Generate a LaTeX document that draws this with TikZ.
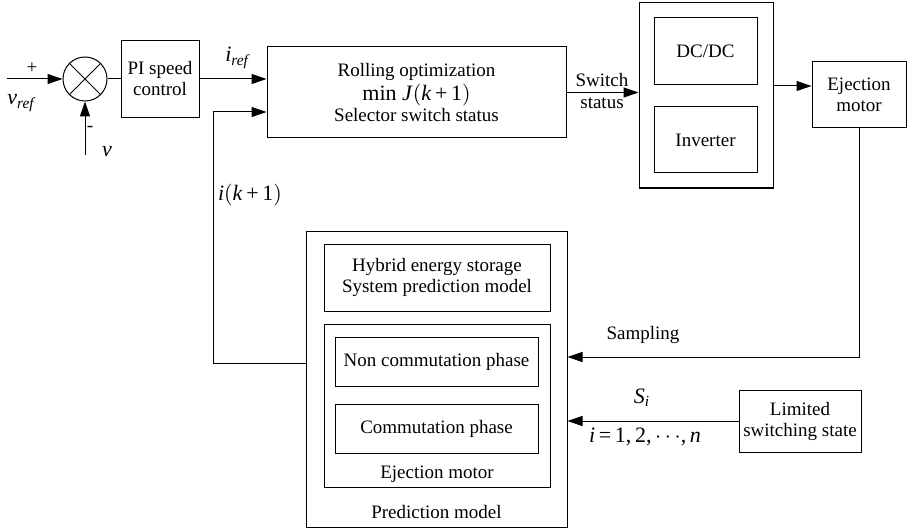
\documentclass[tikz,border=0pt]{standalone}
\usepackage{fontspec}
\setmainfont{Liberation Serif}
\usepackage{tikz}
\usetikzlibrary{arrows.meta, positioning, calc}
\newcommand{\vi}[1]{\textit{#1}}

\begin{document}
\begin{tikzpicture}[
  x=0.5pt, y=-0.5pt,
  font=\fontsize{9.5}{10.5}\selectfont,
  line width=0.5pt,
  box/.style={rectangle, draw, align=center, inner sep=1pt},
  arrow/.style={-{Triangle[length=7.5pt, width=5pt]}},
  lbl/.style={inner sep=1pt},
]
\useasboundingbox (0,0) rectangle (908,529);

% forward path
\node[circle, draw, minimum size=22pt, inner sep=0pt] (sum) at (85,79) {};
\draw (sum.north east) -- (sum.south west) (sum.north west) -- (sum.south east);
\node[box, minimum width=39pt, minimum height=38.5pt] (PI) at (160,79) {PI speed\\control};
\node[box, minimum width=149.5pt, minimum height=45.5pt] (roll) at (416.5,92.5)
  {Rolling optimization\\[0pt] {\fontsize{11}{12}\selectfont min \vi{J}$\bigl($\vi{k}\,+\,1$\bigr)$}\\[0pt] Selector switch status};

% converter
\node[box, minimum width=67pt, minimum height=92.5pt] (power) at (706,95.5) {};
\node[box, minimum width=51.5pt, minimum height=33.5pt] (dcdc) at (705.5,51.5) {DC/DC};
\node[box, minimum width=51.5pt, minimum height=33pt] (inv) at (705.5,140) {Inverter};
\node[box, minimum width=47pt, minimum height=33pt] (ejm) at (859,95) {Ejection\\motor};

% prediction model
\node[box, minimum width=130.5pt, minimum height=148pt] (pred) at (436.5,379) {};
\node[box, minimum width=113pt, minimum height=33.5pt] (hyb) at (437,277.5)
  {Hybrid energy storage\\System prediction model};
\node[box, minimum width=113pt, minimum height=81.5pt] (emot) at (437,405.5) {};
\node[box, minimum width=101.5pt, minimum height=24.5pt] (noncom) at (436.5,361.5) {Non commutation phase};
\node[box, minimum width=101.5pt, minimum height=24.5pt] (com) at (436.5,428.5) {Commutation phase};
\node[lbl, above=1pt of emot.south] {Ejection motor};
\node[lbl, above=3pt of pred.south] {Prediction model};
\node[box, minimum width=61pt, minimum height=31pt] (lim) at (800,421) {Limited\\switching state};

% inputs
\coordinate (vin) at (7,79);
\coordinate (vfb) at (85,155);
\coordinate (fb) at (213,363);
\draw[arrow] (vin) -- (sum.west);
\draw[arrow] (vfb) -- (sum.south);
\draw (sum.east) -- (PI.east -| PI.west);
\draw[arrow] (PI.east) -- (PI.east -| roll.west);
\draw[arrow] (pred.west |- fb) -- (fb) |- ([yshift=-9.75pt]roll.west);
\draw[arrow] (roll.east) -- (roll.east -| power.west);
\draw[arrow] ([yshift=4.75pt]power.east) -- ([yshift=4.75pt]power.east -| ejm.west);
\draw[arrow] (ejm.south) |- ([yshift=11pt]pred.east);
\draw[arrow] (lim.west) -- (lim.west -| pred.east);

% labels
\node[lbl] at (32,68) {+};
\node[lbl, font=\fontsize{11}{12}\selectfont] at (22,103) {\vi{v}\textsubscript{\vi{ref}}};
\node[lbl] at (90,129) {-};
\node[lbl, font=\fontsize{11}{12}\selectfont] at (107,152) {\vi{v}};
\node[lbl, font=\fontsize{11}{12}\selectfont] at (238,58) {\vi{i}\textsubscript{\vi{ref}}};
\node[lbl, font=\fontsize{11}{12}\selectfont] at (250,195) {\vi{i}$\bigl($\vi{k}\,+\,1$\bigr)$};
\node[lbl] at (602,80) {Switch};
\node[lbl] at (602,103) {status};
\node[lbl] at (643,335) {Sampling};
\node[lbl, font=\fontsize{11}{12}\selectfont] at (642,398) {\vi{S}\textsubscript{\vi{i}}};
\node[lbl, font=\fontsize{11}{12}\selectfont] at (645,437) {\vi{i}\,=\,1,\,2,\,$\cdots$,\,\vi{n}};
\end{tikzpicture}
\end{document}
